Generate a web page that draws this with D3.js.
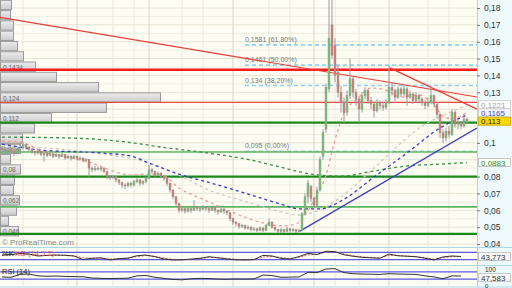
<!DOCTYPE html>
<html><head><meta charset="utf-8">
<script src="https://cdn.jsdelivr.net/npm/d3@7"></script>
<style>html,body{margin:0;padding:0;background:#fff;}svg{display:block;font-family:"Liberation Sans",Arial,sans-serif;}</style>
</head><body><svg id="c" width="512" height="288"></svg>
<script>
// ---- price data (in thousandths, i.e. 96 = 0.096) ----
const openP=[97,96,95,96.5,95,94,96,97,99,97.5,96,95,94,95,93,94,92.5,93.5,92,93,92,93,91,92,91,92,90.5,91,89.5,90,85,84,85,84.5,85,83,80,79.5,80,78,76.5,75,74.5,76,75,77,78,76,77,79,84,83,81,82,80,79,76,72,68,64,60,61,59.5,61,60,62,61,60.5,62,61,60,61.5,60,59,60.5,59.5,58.5,55,53,52,50.5,51,49.5,50,48.5,49,48,49.5,48,51,53,50,48.5,47.5,48.5,47.5,49,48,48.5,47.5,48,58,68,74,67,63,72,92,108,132,170,158,142,130,124,118,128,138,130,126,120,128,131,125,123,119,124,122,121,124,133,131,127,132,129,132,127,129,125,128,126,124,122,124,128,123,117,106,103,107,105,118,111,112,110,114];
const highP=[98,97,97.5,97,96,97,99,100.5,99.5,98,96.5,95.5,96,95.5,95,94.5,94.5,94,94,93.5,94,93.5,93,92.5,93,92.5,92,91.5,91,90.5,86,86.5,86,86,85.5,83.5,81,81,80.5,78.5,77,76,77,77,78,79,78.5,78,80,87,85,83.5,83,82.5,80.5,79.5,76.5,72.5,68.5,64.5,62.5,61.5,62,61.5,66,62.5,62,63,62.5,61.5,62.5,62,60.5,61.5,61,60,59,55.5,53.5,52.5,52,51.5,51,50.5,50,49.5,50.5,50,52,55,53.5,50.5,49,49.5,49,50,49.5,49.5,49,49,59,70,78,75,68,74,92,108,135,187,187,162,146,134,127,131,150,139,132,127,130,133,132,127,124,126,125,124,126,146,136,132,134,133,135,133,131,130,130,129,127,125,127,133,129,124,118,108,109,110,120,119,114,113,117,115];
const lowP=[94.5,94,94.5,94,92,93.5,95,96,96,95,93.5,92.5,93,92,89,91.5,92,91,91.5,90.5,91.5,90,90.5,89.5,90.5,89.5,89.5,88.5,88.5,80,82.5,83,83.5,83,82,78.5,78,78.5,76.5,75,73,72.5,73.5,73.5,74,76,74.5,75,76,78.5,81.5,80,80.5,79,77.5,74.5,70.5,66.5,62,58.5,59,58,58.5,58.5,59.5,59.5,59,60,59.5,58.5,59.5,58.5,57.5,58.5,58,57,53.5,51.5,50.5,49,49.5,48.5,48.5,47.5,47.5,47,47.5,47,47.5,50.5,49,47.5,46.5,46.5,46.5,47,47,47,46.5,47,47.5,57,64,65,61,62,71,90,106,130,150,136,127,118,112,116,126,127,122,112,118,126,123,120,115,118,120,119,120,123,128,125,126,127,128,122,126,123,124,124,122,120,121,123,121,114,103,100,101,103,104,109,108,108,109,111];
const closeP=[96,95,96.5,95,94,96,97,99,97.5,96,95,94,95,93,94,92.5,93.5,92,93,92,93,91,92,91,92,90.5,91,89.5,90,85,84,85,84.5,85,83,80,79.5,80,78,76.5,75,74.5,76,75,77,78,76,77,79,84,83,81,82,80,79,76,72,68,64,60,61,59.5,61,60,62,61,60.5,62,61,60,61.5,60,59,60.5,59.5,58.5,55,53,52,50.5,51,49.5,50,48.5,49,48,49.5,48,51,53,50,48.5,47.5,48.5,47.5,49,48,48.5,47.5,48,58,68,76,67,63,72,90,106,133,162,152,140,130,124,118,128,138,130,126,120,128,131,125,123,119,124,122,121,124,133,131,127,132,129,132,127,129,125,128,126,124,122,124,128,123,117,106,103,107,105,118,111,112,110,114,113];

// ---- moving averages (index, value) ----
const maRedIdx=[0,6,14,23,29,36,43,49,54,59,66,73,79,86,93,98,101,104,108,111,114,118,123,128,133,139,144,148,151,155];
const maRed=[101.1,100.5,94.6,91,88.6,83.9,80.9,81.5,80.3,73.2,67.3,61.9,57.2,53,50.7,51.9,57.2,66.1,80.9,101.7,117.7,125.4,132.5,131.3,127.2,128.4,122.4,114.7,114.7,118.3];
const maGreyIdx=[0,9,23,36,49,59,69,83,93,99,106,113,124,133,139,148,155];
const maGrey=[98,97.5,95.7,92.8,88,80.9,72,64.3,59,57.2,60.2,67.9,85.1,99.9,108.8,117.1,122.1];
const maBlueIdx=[0,13,33,43,49,60,72,83,94,99,106,113,124,135,146,155];
const maBlue=[99.3,95.7,94,92.2,88,80.9,75,69.1,63.1,60.8,60.8,65.5,79.7,94,108.8,116.5];
const maGreenIdx=[0,22,44,53,66,83,94,103,113,124,135,146,155];
const maGreen=[103.4,102.9,99.9,97.5,94.6,89.8,85.1,81.5,80.3,83.3,86.3,87.4,88.3];

// ---- levels ----
const greenLevels=[112,94.6,80,62,46];
const greenStrong=[true,false,true,false,true];
const redLevels=[143.4,124];
const fibLevels=[158.1,146.1,134,95];
const fibLabels=["0,1581 (61,80%)","0,1461 (50,00%)","0,134 (38,20%)","0,095 (0,00%)"];
// trend lines: [index0,value0,index1,value1]
const redTrend1=[-0.7,174.5,158.3,127.2];
const redTrend2=[129.3,144.5,158.3,120];
const blueTrend=[99.3,47.7,158.3,108.8];

// ---- volume profile ----
const volBins=[181.8,175.7,169.6,163.5,157.4,151.3,145.2,139.1,133.0,126.9,120.8,114.7,108.6,102.5,96.4,90.3,84.2,78.1,72.0,65.9,59.8,53.7,47.6];
const volumes=[11,10,13,13,17,23,35,56,98,160,106,51,34,22,20,10,20,14,13,19,16,8,18];
const volLabels={6:"0,1434",9:"0,124",11:"0,112",14:"0,094",16:"0,08",19:"0,062",22:"0,046"};

// ---- indicators (one value per 3 candles) ----
const stochK=[58,62,72,66,50,55,58,56,50,20,31,35,17,28,33,52,58,44,25,17,18,24,31,44,35,25,18,17,20,55,50,30,25,45,72,62,90,86,60,48,39,35,32,66,52,48,44,31,17,42,50,46];
const stochD=[55,60,66,64,56,54,56,55,52,35,30,32,25,26,30,45,54,48,32,22,19,22,28,38,36,30,22,19,20,40,48,38,28,38,60,64,80,84,68,52,42,38,34,55,54,50,45,36,24,36,45,46];
const rsi=[42,40,56,58,48,46,47,45,44,43,36,34,33,34,35,48,50,40,34,28,26,32,34,33,30,29,31,30,31,52,50,40,41,42,68,66,86,88,66,60,58,57,56,60,58,57,56,48,42,32,48,47];

const priceTicks=[40,50,60,70,80,100,130,140,150,160,170,180];
const gridXIdx=[7,22,25,37,44,49,60,67,77,89,96,104,111,119,129,142,149];
const gridXMajor=[25,49,77,104,129];

const svg=d3.select("#c");
const PR=477, PB=247;
const x=d3.scaleLinear().domain([0,155]).range([2,467]);
const y=d3.scaleLinear().domain([40,180]).range([244,8]);
const fmt=v=>String(+(v/1000).toFixed(4)).replace('.',',');

svg.append("rect").attr("width",512).attr("height",288).attr("fill","#fdfdf3");
svg.append("rect").attr("x",PR).attr("width",512-PR).attr("height",288).attr("fill","#eef9fc");
const defs=svg.append("defs");
defs.append("clipPath").attr("id","pc").append("rect").attr("width",PR).attr("height",PB);
const gr=defs.append("linearGradient").attr("id","vg").attr("x1",0).attr("y1",0).attr("x2",0).attr("y2",1);
gr.append("stop").attr("offset","0").attr("stop-color","#ededed");
gr.append("stop").attr("offset","1").attr("stop-color","#cbcbcb");

const g=svg.append("g").attr("clip-path","url(#pc)");
// grid
d3.range(40,181,10).forEach(t=>{g.append("line").attr("x1",0).attr("x2",PR).attr("y1",y(t)).attr("y2",y(t)).attr("stroke","#e6e4d4").attr("stroke-width",1);});
d3.range(45,180,10).forEach(t=>{g.append("line").attr("x1",0).attr("x2",PR).attr("y1",y(t)).attr("y2",y(t)).attr("stroke","#efeee2").attr("stroke-width",1);});
gridXIdx.forEach(i=>{g.append("line").attr("x1",x(i)).attr("x2",x(i)).attr("y1",0).attr("y2",PB).attr("stroke",gridXMajor.includes(i)?"#d8d6c6":"#ebe9dc").attr("stroke-width",1);});

// volume profile
const vx=d3.scaleLinear().domain([0,160]).range([0,160]);
const bh=Math.abs(y(3.05)-y(-3.05));
volBins.forEach((c,k)=>{
  g.append("rect").attr("x",0.5).attr("y",y(c+3.05)+0.5).attr("width",vx(volumes[k])).attr("height",bh-1)
   .attr("fill","url(#vg)").attr("stroke","#9a9a9a").attr("stroke-width",1);
  if(volLabels[k]) g.append("text").attr("x",3).attr("y",y(c)+3).attr("font-size",6.5).attr("fill","#666").text(volLabels[k]);
});

// fib lines
fibLevels.forEach((f,k)=>{
  g.append("line").attr("x1",x(81)).attr("x2",PR).attr("y1",y(f)).attr("y2",y(f)).attr("stroke","#8fd0f5").attr("stroke-width",1.6).attr("stroke-dasharray","4,3");
  g.append("text").attr("x",x(81)).attr("y",y(f)-3).attr("font-size",7).attr("fill","#777").text(fibLabels[k]);
});
// horizontal levels
greenLevels.forEach((v,k)=>{g.append("line").attr("x1",0).attr("x2",PR).attr("y1",y(v)).attr("y2",y(v)).attr("stroke",greenStrong[k]?"#188a18":"#5fb45f").attr("stroke-width",greenStrong[k]?2.2:1.6);});
g.append("line").attr("x1",0).attr("x2",PR).attr("y1",y(redLevels[0])).attr("y2",y(redLevels[0])).attr("stroke","#ff1a1a").attr("stroke-width",2.4);
g.append("line").attr("x1",0).attr("x2",PR).attr("y1",y(redLevels[1])).attr("y2",y(redLevels[1])).attr("stroke","#e84a4a").attr("stroke-width",1.2);

// MAs
const ln=d3.line().x(d=>x(d[0])).y(d=>y(d[1])).curve(d3.curveMonotoneX);
function ma(idx,vals,col,w){g.append("path").attr("d",ln(idx.map((v,k)=>[v,vals[k]]))).attr("fill","none").attr("stroke",col).attr("stroke-width",w).attr("stroke-dasharray","3,3");}
ma(maGreenIdx,maGreen,"#3d8d4a",1.3);
ma(maGreyIdx,maGrey,"#cbcbc4",1.3);
ma(maBlueIdx,maBlue,"#3a3ac8",1.3);
ma(maRedIdx,maRed,"#f29a9a",1.3);

// trend lines
function tl(t,col,w){g.append("line").attr("x1",x(t[0])).attr("y1",y(t[1])).attr("x2",x(t[2])).attr("y2",y(t[3])).attr("stroke",col).attr("stroke-width",w);}
tl(redTrend1,"#f03a3a",1.2);
tl(redTrend2,"#f03a3a",1.2);
tl(blueTrend,"#4040c8",1.4);

// candles
closeP.forEach((c,i)=>{
  const o=openP[i],up=c>=o;
  g.append("line").attr("x1",x(i)).attr("x2",x(i)).attr("y1",y(highP[i])).attr("y2",y(lowP[i])).attr("stroke","#9a9a9a").attr("stroke-width",1);
  const top=y(Math.max(o,c)),bot=y(Math.min(o,c));
  g.append("rect").attr("x",x(i)-1).attr("y",top).attr("width",2).attr("height",Math.max(1,bot-top))
   .attr("fill",up?"#74c274":"#de7878").attr("stroke","#8f8f8f").attr("stroke-width",0.4);
});

svg.append("text").attr("x",2).attr("y",245).attr("font-size",8).attr("fill","#8a8a8a").text("© ProRealTime.com");

// right axis
svg.append("line").attr("x1",PR+0.5).attr("x2",PR+0.5).attr("y1",0).attr("y2",288).attr("stroke","#a9d8e6");
const ax=svg.append("g").attr("transform",`translate(${PR},0)`).call(d3.axisRight(y).tickValues(priceTicks).tickSize(3).tickFormat(fmt));
ax.select(".domain").remove();
ax.selectAll("line").attr("stroke","#777");
ax.selectAll("text").attr("font-size",8.5).attr("fill","#333").attr("font-family","Liberation Sans, Arial, sans-serif").attr("x",7);

function box(txt,fg,bg,bc,yy,fs){
  const gg=svg.append("g");
  gg.append("rect").attr("x",PR+1.5).attr("y",yy-4).attr("width",32).attr("height",8).attr("fill",bg).attr("stroke",bc).attr("stroke-width",0.8);
  gg.append("text").attr("x",PR+4).attr("y",yy+3).attr("font-size",fs||8).attr("fill",fg).text(txt);
}
box("0,1221","#aaa","#fbfbfb","#ccc",104.5);
box("0,1165","#4a4ab8","#f4f4ff","#ccc",112.8);
box("0,113","#222","#ffd700","#c8a800",121.2);
box("0,0883","#2f8a2f","#f7fff7","#bbb",y(88.3));

// lower panels
const P1T=247.5,P1B=265.5,P2B=287;
svg.append("rect").attr("x",0).attr("y",P1T).attr("width",PR).attr("height",P2B-P1T).attr("fill","#fdfdf3");
svg.append("line").attr("x1",0).attr("x2",512).attr("y1",P1T).attr("y2",P1T).attr("stroke","#a9d8e6");
svg.append("line").attr("x1",0).attr("x2",512).attr("y1",P1B).attr("y2",P1B).attr("stroke","#a9d8e6");
svg.append("line").attr("x1",0).attr("x2",512).attr("y1",P2B).attr("y2",P2B).attr("stroke","#a9d8e6");
gridXIdx.forEach(i=>{svg.append("line").attr("x1",x(i)).attr("x2",x(i)).attr("y1",P1T).attr("y2",P2B).attr("stroke",gridXMajor.includes(i)?"#d8d6c6":"#ebe9dc");});
const ys=d3.scaleLinear().domain([0,100]).range([262,250]);
const yr=d3.scaleLinear().domain([0,100]).range([284.5,266.5]);
[80,20].forEach(v=>svg.append("line").attr("x1",0).attr("x2",PR).attr("y1",ys(v)).attr("y2",ys(v)).attr("stroke","#5a5ae0").attr("stroke-width",1.2));
[70,30].forEach(v=>svg.append("line").attr("x1",0).attr("x2",PR).attr("y1",yr(v)).attr("y2",yr(v)).attr("stroke","#5a5ae0").attr("stroke-width",1.2));
const ls=d3.line().x((d,k)=>x(k*3)).y(d=>ys(d));
const lr=d3.line().x((d,k)=>x(k*3)).y(d=>yr(d));
svg.append("path").attr("d",ls(stochD)).attr("fill","none").attr("stroke","#e06060").attr("stroke-width",1).attr("stroke-dasharray","2,1.5");
svg.append("path").attr("d",ls(stochK)).attr("fill","none").attr("stroke","#333").attr("stroke-width",1);
svg.append("path").attr("d",lr(rsi)).attr("fill","none").attr("stroke","#333").attr("stroke-width",1);
svg.append("text").attr("x",2).attr("y",256).attr("font-size",7.5).attr("fill","#222").text("%K");
svg.append("text").attr("x",14).attr("y",256).attr("font-size",7.5).attr("fill","#e05a5a").text("%D (14 5 2)");
svg.append("text").attr("x",2).attr("y",274).attr("font-size",7.5).attr("fill","#222").text("RSI (14)");
box("43,773","#333","#f8f8f8","#bbb",256.5);
svg.append("text").attr("x",PR+8).attr("y",272).attr("font-size",6.5).attr("fill","#333").text("100");
box("47,583","#333","#f8f8f8","#bbb",277.5);
svg.append("text").attr("x",PR+8).attr("y",287.5).attr("font-size",6).attr("fill","#333").text("0");
</script></body></html>
